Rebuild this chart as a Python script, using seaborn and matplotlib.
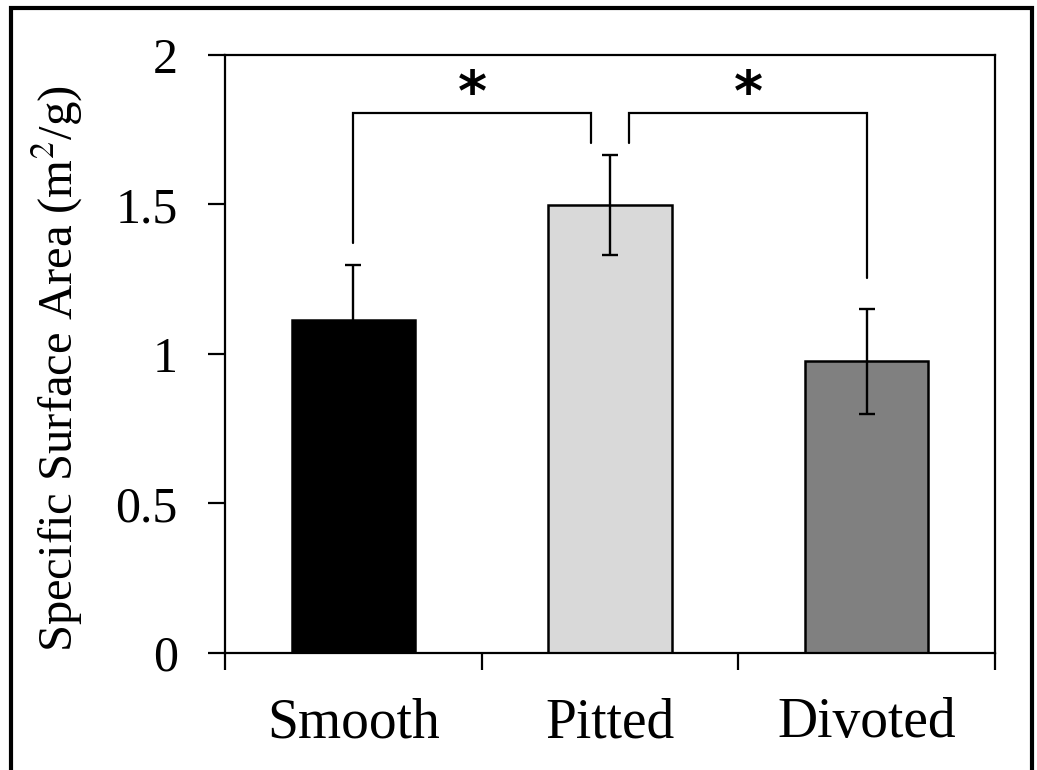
import numpy as np
import pandas as pd
import seaborn as sns
import matplotlib.pyplot as plt
from matplotlib.patches import Rectangle

# Data
surfaces = ["Smooth", "Pitted", "Divoted"]
ssa_mean = [1.115, 1.498, 0.975]
ssa_err = [0.184, 0.166, 0.176]
bar_colors = ["#000000", "#d9d9d9", "#808080"]

# significance brackets: (left bar, right bar, bracket height, left leg end, right leg end)
bracket_pairs = [(0, 1), (1, 2)]
bracket_top = [1.806, 1.806]
bracket_left_end = [1.372, 1.706]
bracket_right_end = [1.706, 1.254]

sns.set_style("ticks")
plt.rcParams["font.family"] = ["Liberation Serif", "DejaVu Serif"]
plt.rcParams["mathtext.fontset"] = "stix"
plt.rcParams.update({"text.color": "black", "axes.labelcolor": "black",
                     "xtick.color": "black", "ytick.color": "black"})

df = pd.DataFrame({"surface": surfaces, "ssa": ssa_mean})

fig = plt.figure(figsize=(10.37, 7.70), dpi=100)
ax = fig.add_axes([0.217, 0.152, 0.7425, 0.7766])

sns.barplot(data=df, x="surface", y="ssa", hue="surface", palette=bar_colors,
            width=0.48, edgecolor="black", linewidth=1.8, errorbar=None,
            legend=False, ax=ax)
ax.errorbar(np.arange(len(surfaces)), ssa_mean, yerr=ssa_err, fmt="none",
            ecolor="black", elinewidth=1.7, capsize=6, capthick=1.7)

# brackets and stars
gap = 0.075
for (a, b), top, le, re in zip(bracket_pairs, bracket_top, bracket_left_end, bracket_right_end):
    xa = a if a == 0 else a + gap
    xb = b if b == 2 else b - gap
    ax.plot([xa, xa, xb, xb], [le, top, top, re], color="black", lw=1.6,
            solid_joinstyle="miter")
    ax.text((xa + xb) / 2, top + 0.06, "*", ha="center", va="center",
            fontsize=40, fontweight="bold", family="DejaVu Sans")

ax.set_xlim(-0.5, 2.5)
ax.set_ylim(0, 2)
ax.set_yticks([0, 0.5, 1, 1.5, 2])
ax.set_yticklabels(["0", "0.5", "1", "1.5", "2"])
ax.set_xticks([-0.5, 0.5, 1.5, 2.5])
ax.set_xticklabels([])
ax.set_xticks([0, 1, 2], minor=True)
ax.set_xticklabels(surfaces, minor=True)
ax.tick_params(axis="x", which="major", length=12, width=1.6, direction="out")
ax.tick_params(axis="x", which="minor", length=0, pad=32, labelsize=40)
ax.tick_params(axis="y", length=12, width=1.6, direction="out", pad=22, labelsize=36)

for side in ["left", "right", "top", "bottom"]:
    ax.spines[side].set_visible(True)
    ax.spines[side].set_linewidth(1.6)
    ax.spines[side].set_color("black")

ax.set_xlabel("")
ax.set_ylabel("Specific Surface Area (m$^2$/g)", fontsize=35)
ax.yaxis.set_label_coords(-0.182, 0.475)

# outer frame of the original image
fig.patches.append(Rectangle((0.0105, -0.05), 0.985, 1.04, transform=fig.transFigure,
                             fill=False, edgecolor="black", linewidth=3))

fig.savefig("out.png", dpi=100)
